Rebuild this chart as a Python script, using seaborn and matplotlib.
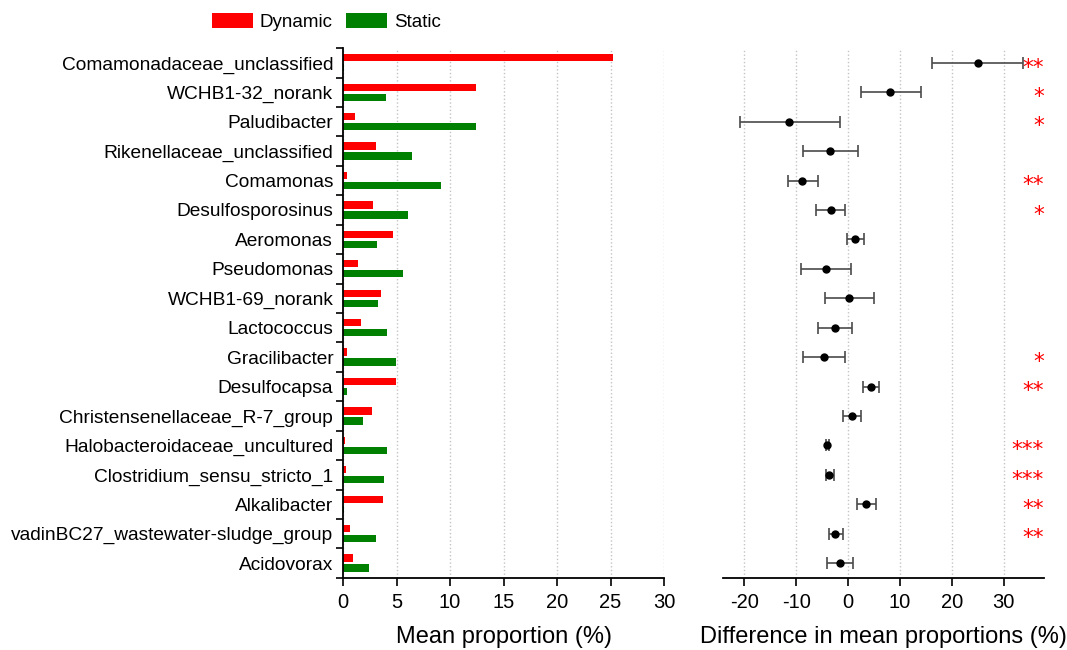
import numpy as np
import pandas as pd
import matplotlib
matplotlib.use('Agg')
import matplotlib.pyplot as plt
import seaborn as sns

taxa = ['Comamonadaceae_unclassified', 'WCHB1-32_norank', 'Paludibacter',
        'Rikenellaceae_unclassified', 'Comamonas', 'Desulfosporosinus',
        'Aeromonas', 'Pseudomonas', 'WCHB1-69_norank', 'Lactococcus',
        'Gracilibacter', 'Desulfocapsa', 'Christensenellaceae_R-7_group',
        'Halobacteroidaceae_uncultured', 'Clostridium_sensu_stricto_1',
        'Alkalibacter', 'vadinBC27_wastewater-sludge_group', 'Acidovorax']

# mean proportion (%)
dynamic = [25.25, 12.4, 1.15, 3.1, 0.37, 2.83, 4.64, 1.37, 3.58, 1.68,
           0.4, 4.98, 2.71, 0.15, 0.3, 3.74, 0.68, 0.9]
static = [0.1, 4.05, 12.4, 6.45, 9.13, 6.1, 3.15, 5.58, 3.27, 4.14,
          4.98, 0.4, 1.9, 4.08, 3.86, 0.1, 3.11, 2.43]

# difference in mean proportions with 95% CI
diff = [25.0, 8.2, -11.3, -3.4, -8.8, -3.3, 1.35, -4.3, 0.25, -2.56,
        -4.7, 4.37, 0.7, -4.0, -3.6, 3.47, -2.56, -1.6]
ci_low = [16.2, 2.6, -20.9, -8.6, -11.6, -6.2, -0.25, -9.0, -4.4, -5.7,
          -8.7, 2.9, -0.9, -4.25, -4.3, 1.7, -3.7, -4.0]
ci_high = [33.8, 14.1, -1.6, 1.9, -5.8, -0.5, 3.0, 0.5, 5.07, 0.77,
           -0.5, 6.0, 2.5, -3.75, -2.76, 5.45, -1.0, 0.9]
signif = ['**', '*', '*', '', '**', '*', '', '', '', '',
          '*', '**', '', '***', '***', '**', '**', '']

sns.set_style('white')
plt.rcParams['font.family'] = ['Liberation Sans', 'DejaVu Sans']
plt.rcParams['axes.unicode_minus'] = False
plt.rcParams['text.color'] = 'black'
plt.rcParams['axes.labelcolor'] = 'black'
plt.rcParams['xtick.color'] = 'black'
plt.rcParams['ytick.color'] = 'black'

n = len(taxa)
df = pd.DataFrame({
    'taxon': taxa * 2,
    'group': ['Dynamic'] * n + ['Static'] * n,
    'value': dynamic + static,
})

fig = plt.figure(figsize=(10.67, 6.5), dpi=100)
ax1 = fig.add_axes([0.3215, 0.111, 0.3008, 0.815])
ax2 = fig.add_axes([0.6776, 0.111, 0.3008, 0.815])

# left: grouped bars
sns.barplot(data=df, y='taxon', x='value', hue='group', orient='h',
            palette={'Dynamic': '#ff0000', 'Static': '#008000'},
            saturation=1, width=0.68, gap=0.27, errorbar=None,
            linewidth=0, ax=ax1)
handles, labels = ax1.get_legend_handles_labels()
ax1.get_legend().remove()

ax1.set_xlim(0, 30)
ax1.set_xticks(np.arange(0, 31, 5))
ax1.set_ylim(n - 0.5, -0.5)
ax1.set_yticks(np.arange(n + 1) - 0.5, minor=True)
ax1.tick_params(axis='y', which='major', length=0, pad=7, labelsize=13.8)
ax1.tick_params(axis='y', which='minor', length=5, width=1.2, direction='out', left=True)
ax1.tick_params(axis='x', length=6, width=1.2, direction='out', bottom=True, labelsize=14.5, pad=5)
ax1.set_ylabel('')
ax1.set_xlabel('Mean proportion (%)', fontsize=17, labelpad=10)
ax1.xaxis.grid(True, linestyle=':', color='#c4c4c4', linewidth=1)
ax1.set_axisbelow(True)
for s in ['top', 'right']:
    ax1.spines[s].set_visible(False)
for s in ['left', 'bottom']:
    ax1.spines[s].set_linewidth(1.3)
    ax1.spines[s].set_color('black')

# right: difference with CI
y = np.arange(n)
d = np.array(diff)
err = [d - np.array(ci_low), np.array(ci_high) - d]
ax2.errorbar(d, y, xerr=err, fmt='o', color='black', markersize=5,
             ecolor='#4a4a4a', elinewidth=1.2, capsize=4.5, capthick=1.2)
for i, s in enumerate(signif):
    if s:
        ax2.annotate(s, xy=(1.0, i), xycoords=('axes fraction', 'data'),
                     xytext=(0, -7.7), textcoords='offset points',
                     ha='right', va='baseline', color='red', fontsize=15.5,
                     family='DejaVu Sans')

ax2.set_ylim(n - 0.5, -0.5)
ax2.set_yticks([])
ax2.set_xlim(-24.1, 37.8)
ax2.set_xticks(np.arange(-20, 31, 10))
ax2.tick_params(axis='x', length=6, width=1.2, direction='out', bottom=True, labelsize=14.5, pad=5)
ax2.set_xlabel('Difference in mean proportions (%)', fontsize=17, labelpad=10)
ax2.xaxis.grid(True, linestyle=':', color='#c4c4c4', linewidth=1)
ax2.set_axisbelow(True)
for s in ['top', 'right', 'left']:
    ax2.spines[s].set_visible(False)
ax2.spines['bottom'].set_linewidth(1.3)
ax2.spines['bottom'].set_color('black')

fig.legend(handles, labels, loc='center left', bbox_to_anchor=(212 / 1067, 1 - 22 / 650),
           ncol=2, frameon=False, fontsize=13.5, borderpad=0, borderaxespad=0,
           handlelength=2.2, handleheight=0.8, handletextpad=0.35, columnspacing=0.7)

fig.savefig('out.png', dpi=100)
